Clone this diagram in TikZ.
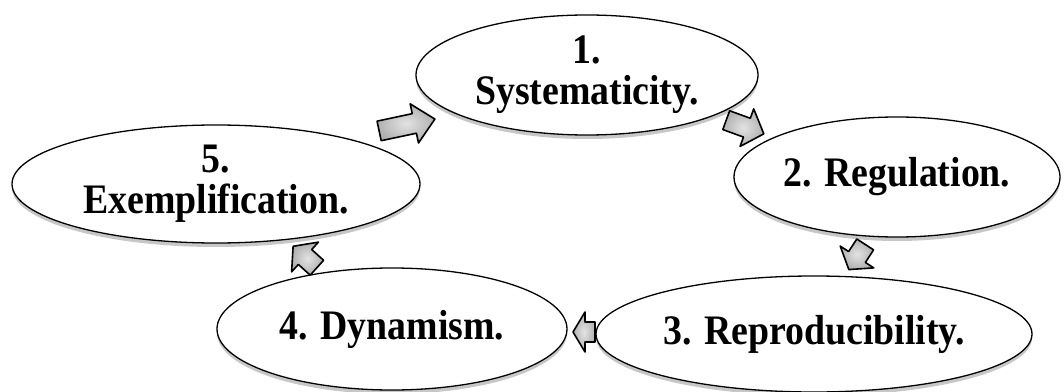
\documentclass[tikz,border=0pt]{standalone}
\usepackage{fontspec}
\setmainfont{Liberation Serif}
\newfontfamily\stagefont[FakeStretch=0.9]{Liberation Serif}
\usetikzlibrary{shapes.geometric,shadows}
\tikzset{
  stage/.style={ellipse, draw=black, line width=1.3pt, fill=white, inner sep=0pt,
    align=center, font=\stagefont\fontsize{42}{41}\selectfont\bfseries,
    drop shadow={shadow xshift=0pt, shadow yshift=-4pt, fill=black, opacity=0.22}},
  cyclearrow/.style={draw=black, line width=1.6pt, line join=round,
    inner color=gray!22, outer color=gray!62}
}
\newcommand\cyclearr[5]{%
  \begin{scope}[shift={(#1,#2)}, rotate=#3]
    \path[cyclearrow] ({-#4/2},-10) -- ({#4/2-#5},-10) -- ({#4/2-#5},-20) -- ({#4/2},0)
      -- ({#4/2-#5},20) -- ({#4/2-#5},10) -- ({-#4/2},10) -- cycle;
  \end{scope}}
\begin{document}
\begin{tikzpicture}[x=1pt,y=1pt]
\useasboundingbox (0,0) rectangle (1064,391);
\fill[white] (0,0) rectangle (1064,391);
\node[stage, minimum width=342, minimum height=120] (s1) at (587,316) {1.\\Systematicity.};
\node[stage, minimum width=326, minimum height=120] (s2) at (897,214) {2. Regulation.};
\node[stage, minimum width=436, minimum height=116] (s3) at (814,57) {3. Reproducibility.};
\node[stage, minimum width=350, minimum height=122] (s4) at (392,62) {4. Dynamism.};
\node[stage, minimum width=408, minimum height=118] (s5) at (216,207) {5.\\Exemplification.};
\cyclearr{407}{266}{12}{57}{21}
\cyclearr{745}{264}{-20}{40}{18}
\cyclearr{857}{134}{-123}{30}{15}
\cyclearr{584}{59}{180}{22}{12}
\cyclearr{305}{134}{138}{32}{16}
\end{tikzpicture}
\end{document}
